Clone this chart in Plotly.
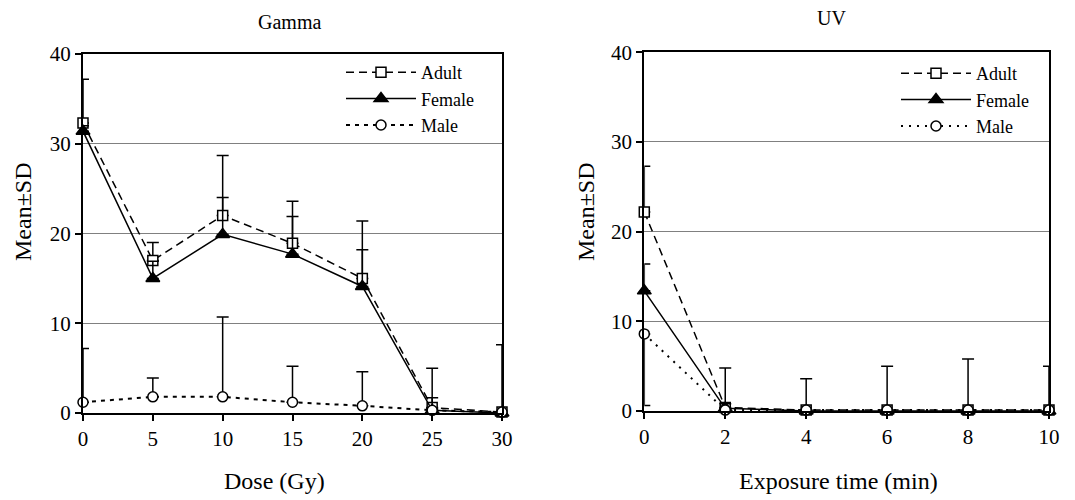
import plotly.graph_objects as go

# ---------------- data ----------------
gamma_dose = [0, 5, 10, 15, 20, 25, 30]
gamma_adult = [32.3, 17.0, 22.0, 18.9, 15.0, 0.6, 0.1]
gamma_adult_sd = [4.9, 2.0, 6.7, 4.7, 6.4, 4.4, 7.5]
gamma_female = [31.4, 15.0, 19.9, 17.7, 14.1, 0.3, 0.0]
gamma_female_sd = [0.6, 1.9, 4.1, 4.2, 4.1, 1.4, 0.1]
gamma_male = [1.2, 1.8, 1.8, 1.2, 0.8, 0.3, 0.1]
gamma_male_sd = [6.0, 2.1, 8.9, 4.0, 3.8, 0.2, 0.1]

uv_time = [0, 2, 4, 6, 8, 10]
uv_adult = [22.2, 0.4, 0.1, 0.1, 0.1, 0.1]
uv_adult_sd = [5.1, 4.4, 3.5, 4.9, 5.7, 4.9]
uv_female = [13.4, 0.3, 0.0, 0.0, 0.0, 0.0]
uv_female_sd = [3.0, 0.5, 0.0, 0.0, 0.0, 0.0]
uv_male = [8.6, 0.1, 0.1, 0.1, 0.1, 0.1]
uv_male_sd_minus = [8.0, 0.0, 0.0, 0.0, 0.0, 0.0]

series_names = ["Adult", "Female", "Male"]
y_ticks = [0, 10, 20, 30, 40]
gamma_ticks = [0, 5, 10, 15, 20, 25, 30]
uv_ticks = [0, 2, 4, 6, 8, 10]

FONT = "Times New Roman"
OFF = 8  # page body margin of the html page


def px_x(p):
    return (p - OFF) / 1075


def px_y(p):
    return 1 - (p - OFF) / 500


styles = {
    "Adult": dict(dash="8px,5px", symbol="square", fill="white", size=10),
    "Female": dict(dash="solid", symbol="triangle-up", fill="black", size=12),
    "Male": dict(dash="4px,5px", symbol="circle", fill="white", size=10),
}

fig = go.Figure()


def add_series(x, y, err_plus, err_minus, name, xa, ya, legend, dash_override=None):
    st = styles[name]
    err = dict(type="data", array=err_plus, visible=True, color="black",
               thickness=1.5, width=6, symmetric=False,
               arrayminus=err_minus if err_minus is not None else [0] * len(err_plus))
    fig.add_trace(go.Scatter(
        x=x, y=y, name=name, mode="lines+markers", xaxis=xa, yaxis=ya,
        legend=legend, cliponaxis=False,
        line=dict(color="black", width=2 if name == "Male" else 1.5,
                  dash=dash_override or st["dash"]),
        marker=dict(symbol=st["symbol"], size=st["size"], color=st["fill"],
                    line=dict(color="black", width=1.5)),
        error_y=err,
    ))


add_series(gamma_dose, gamma_adult, gamma_adult_sd, None, "Adult", "x", "y", "legend")
add_series(gamma_dose, gamma_female, gamma_female_sd, None, "Female", "x", "y", "legend")
add_series(gamma_dose, gamma_male, gamma_male_sd, None, "Male", "x", "y", "legend")

add_series(uv_time, uv_adult, uv_adult_sd, None, "Adult", "x2", "y2", "legend2")
add_series(uv_time, uv_female, uv_female_sd, None, "Female", "x2", "y2", "legend2")
add_series(uv_time, uv_male, [0] * len(uv_male), uv_male_sd_minus, "Male", "x2", "y2",
           "legend2", dash_override="2px,6px")

axis_common = dict(showline=True, linecolor="black", linewidth=2, mirror=True,
                   ticks="outside", ticklen=6, tickwidth=1.5, tickcolor="black",
                   tickfont=dict(family=FONT, size=21, color="black"),
                   zeroline=False, automargin=False)


def label(text, xp, yp, size, angle=0):
    return dict(text=text, x=px_x(xp), y=px_y(yp), xref="paper", yref="paper",
                showarrow=False, font=dict(family=FONT, size=size, color="black"),
                xanchor="center", yanchor="middle", textangle=angle)


fig.update_layout(
    width=1075, height=500,
    margin=dict(l=0, r=0, t=0, b=0, autoexpand=False),
    paper_bgcolor="white", plot_bgcolor="white",
    font=dict(family=FONT, color="black"),
    xaxis=dict(domain=[px_x(83), px_x(502)], range=[0, 30], tickvals=gamma_ticks,
               showgrid=False, anchor="y", **axis_common),
    yaxis=dict(domain=[px_y(413), px_y(54)], range=[0, 40], tickvals=y_ticks,
               showgrid=True, gridcolor="#808080", gridwidth=1, anchor="x",
               **axis_common),
    xaxis2=dict(domain=[px_x(644.3), px_x(1049)], range=[0, 10], tickvals=uv_ticks,
                showgrid=False, anchor="y2", **axis_common),
    yaxis2=dict(domain=[px_y(411), px_y(52.3)], range=[0, 40], tickvals=y_ticks,
                showgrid=True, gridcolor="#808080", gridwidth=1, anchor="x2",
                **axis_common),
    legend=dict(x=px_x(341), y=px_y(54), xanchor="left", yanchor="top", itemwidth=70,
                bgcolor="rgba(0,0,0,0)", font=dict(family=FONT, size=18),
                tracegroupgap=0),
    legend2=dict(x=px_x(896), y=px_y(55), xanchor="left", yanchor="top", itemwidth=70,
                 bgcolor="rgba(0,0,0,0)", font=dict(family=FONT, size=18),
                 tracegroupgap=0),
    showlegend=True,
    annotations=[
        label("Gamma", 289, 22, 20),
        label("UV", 832, 18, 20),
        label("Dose (Gy)", 274, 481, 24),
        label("Exposure time (min)", 838, 481, 24),
        label("Mean±SD", 23, 212, 24, -90),
        label("Mean±SD", 586, 212, 24, -90),
    ],
)

fig.write_html("out.html")
